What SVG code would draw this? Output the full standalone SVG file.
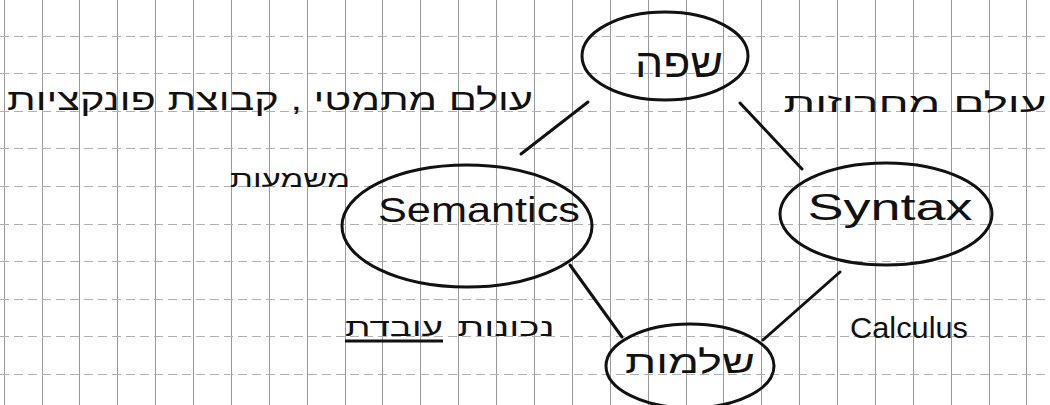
<svg xmlns="http://www.w3.org/2000/svg" width="1050" height="405" viewBox="0 0 1050 405">
<style>
.gv{stroke:#9a9a9a;stroke-width:1;fill:none}
.gh{stroke:#b0b0b0;stroke-width:1;fill:none;stroke-dasharray:9 5}
.node{fill:none;stroke:#111;stroke-width:3}
.edge{stroke:#111;stroke-width:3;stroke-linecap:round;fill:none}
.lat{font-family:"Liberation Sans","DejaVu Sans",sans-serif;fill:#111}
.heb{font-family:"Liberation Sans","DejaVu Sans",sans-serif;fill:#111}
</style>
<rect width="1050" height="405" fill="#fff"/>
<g id="grid">
<path class="gv" d="M4.5 0V405M42.5 0V405M79.5 0V405M117.5 0V405M155.5 0V405M193.5 0V405M231.5 0V405M269.5 0V405M307.5 0V405M345.5 0V405M382.5 0V405M420.5 0V405M458.5 0V405M496.5 0V405M534.5 0V405M572.5 0V405M610.5 0V405M648.5 0V405M686.5 0V405M723.5 0V405M761.5 0V405M799.5 0V405M837.5 0V405M875.5 0V405M913.5 0V405M951.5 0V405M989.5 0V405M1026.5 0V405"/>
<path class="gh" d="M0 36.5H1050M0 73.5H1050M0 111.5H1050M0 148.5H1050M0 186.5H1050M0 224.5H1050M0 261.5H1050M0 299.5H1050M0 336.5H1050M0 374.5H1050"/>
</g>
<g id="connectors">
<line class="edge" x1="588" y1="102" x2="521" y2="154"/>
<line class="edge" x1="740" y1="103" x2="802" y2="169"/>
<line class="edge" x1="570" y1="265" x2="622" y2="337"/>
<line class="edge" x1="840" y1="272" x2="763" y2="340"/>
</g>
<g id="node-safa">
<ellipse class="node" cx="665" cy="56" rx="83" ry="44"/>
<text class="heb" x="679" y="77" font-size="40" text-anchor="middle" textLength="88" lengthAdjust="spacingAndGlyphs">שפה</text>
</g>
<g id="node-semantics">
<ellipse class="node" cx="467" cy="226" rx="125" ry="61"/>
<text class="lat" x="479" y="222" font-size="35" text-anchor="middle" textLength="202" lengthAdjust="spacingAndGlyphs">Semantics</text>
</g>
<g id="node-syntax">
<ellipse class="node" cx="886" cy="214" rx="106" ry="51"/>
<text class="lat" x="890" y="220" font-size="37" text-anchor="middle" textLength="165" lengthAdjust="spacingAndGlyphs">Syntax</text>
</g>
<g id="node-shlemut">
<ellipse class="node" cx="690" cy="366" rx="84" ry="42"/>
<text class="heb" x="690" y="373" font-size="32" text-anchor="middle" textLength="130" lengthAdjust="spacingAndGlyphs">שלמות</text>
</g>
<g id="labels">
<text class="heb" x="270" y="110" font-size="30" text-anchor="middle" textLength="526" lengthAdjust="spacingAndGlyphs">עולם מתמטי , קבוצת פונקציות</text>
<text class="heb" x="915" y="112" font-size="27" text-anchor="middle" textLength="263" lengthAdjust="spacingAndGlyphs">עולם מחרוזות</text>
<text class="heb" x="290" y="187" font-size="24" text-anchor="middle" textLength="120" lengthAdjust="spacingAndGlyphs">משמעות</text>
<text class="heb" x="506" y="336" font-size="25" text-anchor="middle" textLength="97" lengthAdjust="spacingAndGlyphs">נכונות</text>
<text class="heb" x="394" y="336" font-size="25" text-anchor="middle" textLength="98" lengthAdjust="spacingAndGlyphs">עובדת</text>
<line x1="345" y1="341" x2="443" y2="341" stroke="#111" stroke-width="3"/>
<text class="lat" x="909" y="338" font-size="29" text-anchor="middle" textLength="118" lengthAdjust="spacingAndGlyphs">Calculus</text>
</g>
</svg>
